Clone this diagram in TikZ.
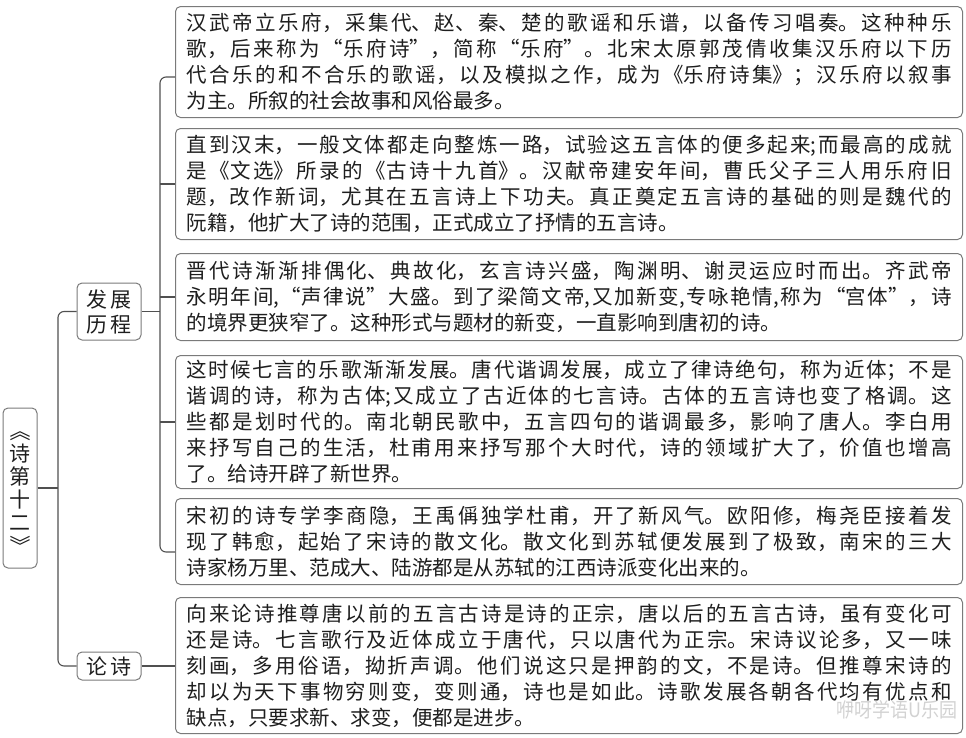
\documentclass[tikz,border=0pt]{standalone}
\usepackage{fontspec}
\setmainfont{Noto Sans CJK SC}
\newfontfamily\cjkfont{Noto Sans CJK SC}
\XeTeXlinebreaklocale "zh"
\XeTeXlinebreakskip=0pt plus 4pt
\definecolor{boxgray}{HTML}{7A7A7A}
\definecolor{linegray}{HTML}{505050}
\definecolor{txt}{HTML}{1E1E1E}
\newcommand\bodyfont{\cjkfont\fontsize{20.5pt}{26pt}\selectfont\parindent=0pt\tolerance=10000\hbadness=10000}
\newcommand\labfont{\cjkfont\fontsize{21pt}{25pt}\selectfont}
\begin{document}
\begin{tikzpicture}[x=1pt,y=-1pt,
  txtbox/.style={draw=boxgray, line width=1pt, rounded corners=5pt, anchor=north west,
    text width=765pt, inner xsep=11pt, inner ysep=0pt, align=justify, font=\bodyfont, text=txt},
  labbox/.style={draw=boxgray, line width=1pt, rounded corners=5pt, minimum width=64pt,
    inner sep=0pt, align=center, font=\labfont, text=txt},
  conn/.style={draw=linegray, line width=1.1pt, rounded corners=6pt}]
\useasboundingbox (0,0) rectangle (966,737);

% root
\node[labbox, minimum width=34pt, minimum height=160pt, font=\cjkfont\fontsize{21pt}{23pt}\selectfont] (root) at (20,488) {\rotatebox[origin=c]{-90}{《}\\诗\\第\\十\\二\\\rotatebox[origin=c]{-90}{》}};

% level 1
\node[labbox, minimum height=57pt] (fz) at (109,311.5) {发\hspace{4pt}展\\历\hspace{4pt}程};
\node[labbox, minimum height=28pt] (lun) at (109,666) {论\hspace{4pt}诗};

% content boxes
\node[txtbox, minimum height=111pt] (b1) at (175,6) {汉武帝立乐府，采集代、赵、秦、楚的歌谣和乐谱，以备传习唱奏。这种种乐\linebreak
歌，后来称为“乐府诗”，简称“乐府”。北宋太原郭茂倩收集汉乐府以下历\linebreak
代合乐的和不合乐的歌谣，以及模拟之作，成为《乐府诗集》；汉乐府以叙事\linebreak
为主。所叙的社会故事和风俗最多。};

\node[txtbox, minimum height=111pt] (b2) at (175,128) {直到汉末，一般文体都走向整炼一路，试验这五言体的便多起来;而最高的成就\linebreak
是《文选》所录的《古诗十九首》。汉献帝建安年间，曹氏父子三人用乐府旧\linebreak
题，改作新词，尤其在五言诗上下功夫。真正奠定五言诗的基础的则是魏代的\linebreak
阮籍，他扩大了诗的范围，正式成立了抒情的五言诗。};

\node[txtbox, minimum height=87pt] (b3) at (175,253) {晋代诗渐渐排偶化、典故化，玄言诗兴盛，陶渊明、谢灵运应时而出。齐武帝\linebreak
永明年间,“声律说”大盛。到了梁简文帝,又加新变,专咏艳情,称为“宫体”，诗\linebreak
的境界更狭窄了。这种形式与题材的新变，一直影响到唐初的诗。};

\node[txtbox, minimum height=133pt] (b4) at (175,355) {这时候七言的乐歌渐渐发展。唐代谐调发展，成立了律诗绝句，称为近体；不是\linebreak
谐调的诗，称为古体;又成立了古近体的七言诗。古体的五言诗也变了格调。这\linebreak
些都是划时代的。南北朝民歌中，五言四句的谐调最多，影响了唐人。李白用\linebreak
来抒写自己的生活，杜甫用来抒写那个大时代，诗的领域扩大了，价值也增高\linebreak
了。给诗开辟了新世界。};

\node[txtbox, minimum height=86pt] (b5) at (175,498) {宋初的诗专学李商隐，王禹偁独学杜甫，开了新风气。欧阳修，梅尧臣接着发\linebreak
现了韩愈，起始了宋诗的散文化。散文化到苏轼便发展到了极致，南宋的三大\linebreak
诗家杨万里、范成大、陆游都是从苏轼的江西诗派变化出来的。};

\node[txtbox, minimum height=136pt] (b6) at (175,597) {向来论诗推尊唐以前的五言古诗是诗的正宗，唐以后的五言古诗，虽有变化可\linebreak
还是诗。七言歌行及近体成立于唐代，只以唐代为正宗。宋诗议论多，又一味\linebreak
刻画，多用俗语，拗折声调。他们说这只是押韵的文，不是诗。但推尊宋诗的\linebreak
却以为天下事物穷则变，变则通，诗也是如此。诗歌发展各朝各代均有优点和\linebreak
缺点，只要求新、求变，便都是进步。};

% watermark
\node[text=gray!35, font=\cjkfont\fontsize{20pt}{20pt}\selectfont, inner sep=0pt, xscale=0.9] (wm) at (897,710) {咿呀学语U乐园};

% connector helpers
\coordinate (tx) at (58,0);
\coordinate (vx) at (160,0);
\coordinate (j1) at (160,77);
\coordinate (j5) at (160,552);

% trunk
\draw[conn] (root.east) -- (root.east -| tx);
\draw[conn] (fz.west) -- (fz.west -| tx) -- (lun.west -| tx) -- (lun.west);

% bracket for 发展历程
\draw[conn] (fz.east) -- (fz.east -| vx);
\draw[conn] (j1 -| b1.west) -- (j1) -- (j5) -- (j5 -| b5.west);
\draw[conn] (b2.west -| vx) -- (b2.west);
\draw[conn] (b3.west -| vx) -- (b3.west);
\draw[conn] (b4.west -| vx) -- (b4.west);

% 论诗
\draw[conn] (lun.east) -- (lun.east -| b6.west);
\end{tikzpicture}
\end{document}
